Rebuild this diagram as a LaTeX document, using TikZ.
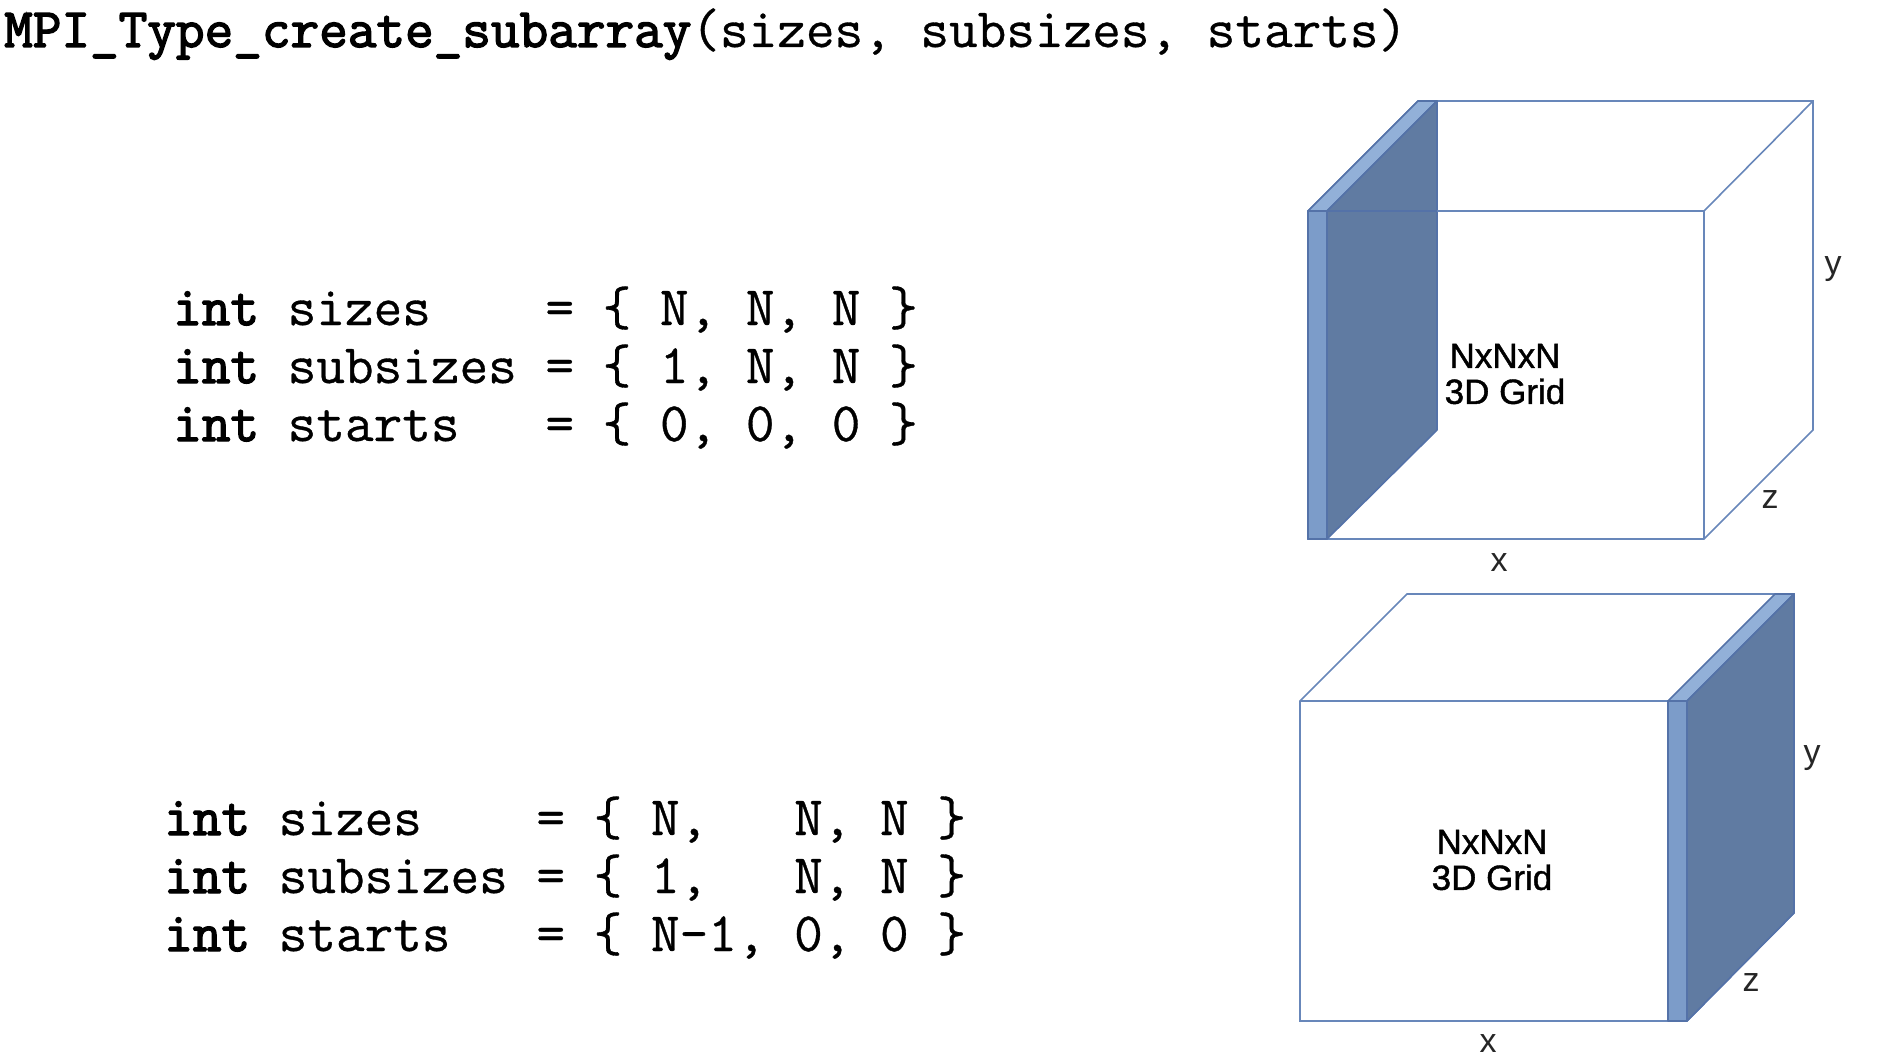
\documentclass[tikz,border=0pt]{standalone}
\usepackage{fontspec}
\setmainfont{Liberation Sans}
\newfontfamily\codefont[FakeBold=0.6]{Latin Modern Mono}
\newfontfamily\kwfont[FakeBold=2.6]{Latin Modern Mono}
\newfontfamily\gridfont[FakeBold=1.2]{Liberation Sans}
\definecolor{edgeblue}{RGB}{104,135,186}
\definecolor{plateedgeblue}{RGB}{84,114,168}
\definecolor{plateblue}{RGB}{124,156,201}
\definecolor{topblue}{RGB}{146,176,216}
\definecolor{sideblue}{RGB}{96,123,162}
\newcommand{\kw}[1]{{\kwfont #1}}
\tikzset{
  codeline/.style={anchor=base west, inner sep=0pt, font=\fontsize{55.6}{60}\selectfont\codefont},
  gridlabel/.style={align=center, inner sep=0pt, font=\fontsize{35}{36}\selectfont\gridfont},
  axislabel/.style={inner sep=0pt, font=\fontsize{34}{36}\selectfont, text=black!85},
  edge/.style={edgeblue, line width=1.6pt},
  plateedge/.style={plateedgeblue, line width=1.6pt, line join=round}
}
\begin{document}
\begin{tikzpicture}[x=1pt,y=-1pt]
  \useasboundingbox (0,0) rectangle (1882,1062);
  %% Title
  \node[codeline] (title) at (4,47) {\kw{MPI\_Type\_create\_subarray}(sizes, subsizes, starts)};
  %% First block of declarations
  \node[codeline] (sizesA) at (173,325) {\kw{int} sizes~~~~= \{ N, N, N \}};
  \node[codeline] (subsizesA) at (173,383) {\kw{int} subsizes = \{ 1, N, N \}};
  \node[codeline] (startsA) at (173,441) {\kw{int} starts~~~= \{ 0, 0, 0 \}};
  %% Second block of declarations
  \node[codeline] (sizesB) at (164,835) {\kw{int} sizes~~~~= \{ N,~~~N, N \}};
  \node[codeline] (subsizesB) at (164,893) {\kw{int} subsizes = \{ 1,~~~N, N \}};
  \node[codeline] (startsB) at (164,951) {\kw{int} starts~~~= \{ N-1, 0, 0 \}};
  %% Upper cube, slab at the left
  \draw[edge] (1308,211) -- (1418,101) -- (1813,101) -- (1813,430) -- (1704,539) -- (1308,539) -- cycle;
  \draw[edge] (1813,101) -- (1704,211) -- (1704,539);
  \draw[plateedge, fill=topblue] (1308,211) -- (1418,101) -- (1437,101) -- (1327,211) -- cycle;
  \draw[plateedge, fill=sideblue] (1327,211) -- (1437,101) -- (1437,430) -- (1327,539) -- cycle;
  \draw[plateedge, fill=plateblue] (1308,211) rectangle (1327,539);
  \draw[plateedge] (1308,211) -- (1437,211);
  \draw[edge] (1437,211) -- (1704,211);
  \node[gridlabel] (gridA) at (1505,374) {NxNxN\\3D Grid};
  \node[axislabel] (xA) at (1499,563) {x};
  \node[axislabel] (yA) at (1833,269) {y};
  \node[axislabel] (zA) at (1770,500) {z};
  %% Lower cube, slab at the right
  \draw[edge] (1300,701) -- (1407,594) -- (1794,594) -- (1794,913) -- (1687,1021) -- (1300,1021) -- cycle;
  \draw[edge] (1300,701) -- (1669,701);
  \draw[plateedge, fill=topblue] (1668,701) -- (1775,594) -- (1794,594) -- (1687,701) -- cycle;
  \draw[plateedge, fill=sideblue] (1687,701) -- (1794,594) -- (1794,913) -- (1687,1021) -- cycle;
  \draw[plateedge, fill=plateblue] (1668,701) rectangle (1687,1021);
  \node[gridlabel] (gridB) at (1492,860) {NxNxN\\3D Grid};
  \node[axislabel] (xB) at (1488,1044) {x};
  \node[axislabel] (yB) at (1812,758) {y};
  \node[axislabel] (zB) at (1751,983) {z};
\end{tikzpicture}
\end{document}
